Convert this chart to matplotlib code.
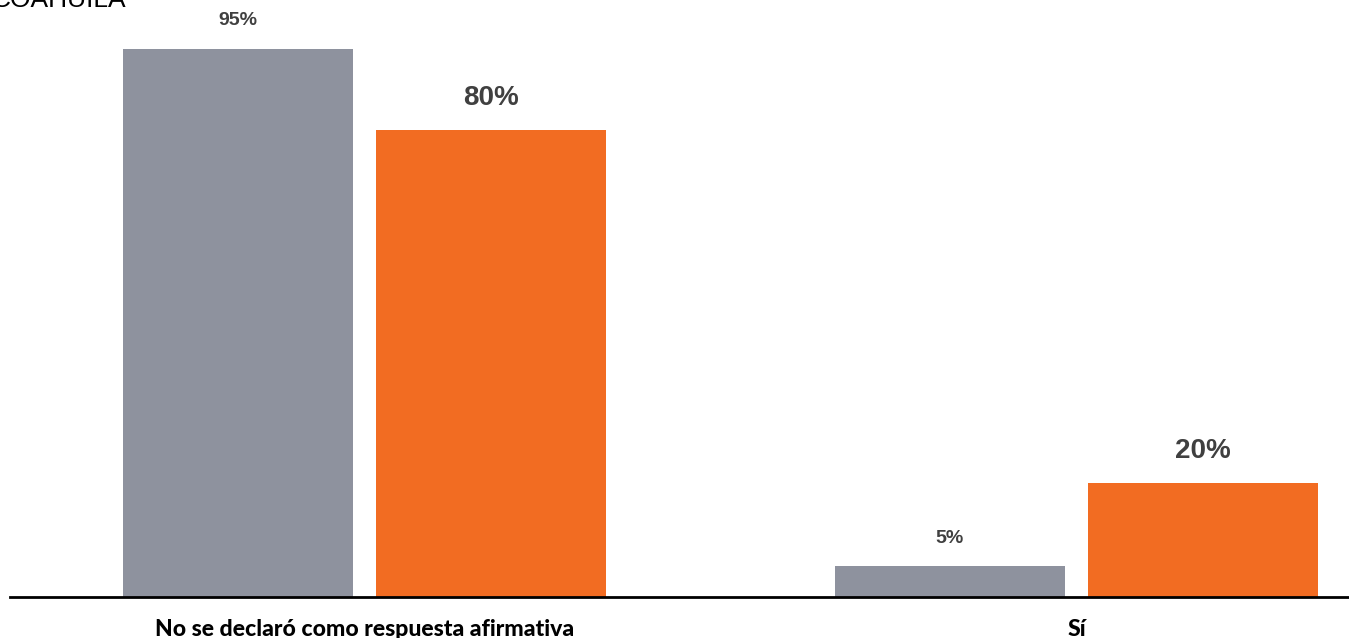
import numpy as np
import matplotlib
matplotlib.use('Agg')
import matplotlib.pyplot as plt

categories = ['No se declaró como respuesta afirmativa', 'Sí']
# bar heights as measured on the picture (labels are rounded)
serie_gris = [94.5, 5.3]
serie_naranja = [80.6, 19.6]
etiquetas_gris = ['95%', '5%']
etiquetas_naranja = ['80%', '20%']

GRIS = '#8E929E'
NARANJA = '#F26C22'
TEXTO = '#404040'

W, H = 1349, 638
fig = plt.figure(figsize=(W / 100, H / 100), dpi=100)
ax = fig.add_axes([10 / W, (H - 597) / H, (W - 10) / W, 597 / H])

x = np.arange(len(categories))
width = 0.323
offset = 0.1777

b1 = ax.bar(x - offset, serie_gris, width, color=GRIS)
b2 = ax.bar(x + offset, serie_naranja, width, color=NARANJA)

for rect, lab in zip(b1, etiquetas_gris):
    ax.annotate(lab, (rect.get_x() + rect.get_width() / 2, rect.get_height()),
                xytext=(0, 28), textcoords='offset pixels', ha='center', va='center',
                fontsize=14, fontweight='bold', color=TEXTO, family='Liberation Sans')
for rect, lab in zip(b2, etiquetas_naranja):
    ax.annotate(lab, (rect.get_x() + rect.get_width() / 2, rect.get_height()),
                xytext=(0, 32), textcoords='offset pixels', ha='center', va='center',
                fontsize=20, fontweight='bold', color=TEXTO, family='Liberation Sans')

ax.set_xlim(-0.498, 1.383)
ax.set_ylim(0, 597 / 5.8)
for s in ['top', 'right', 'left']:
    ax.spines[s].set_visible(False)
ax.spines['bottom'].set_linewidth(2)
ax.spines['bottom'].set_color('black')
ax.set_yticks([])
ax.set_xticks(x)
ax.set_xticklabels(categories, fontsize=16.6, fontweight='black', family='Lato')
ax.tick_params(axis='x', length=0, pad=16)

fig.text(-8 / W, 1 - 7 / H, 'COAHUILA', ha='left', va='baseline', fontsize=19,
         family='Liberation Sans', color='black')

fig.savefig('out.png', dpi=100)
